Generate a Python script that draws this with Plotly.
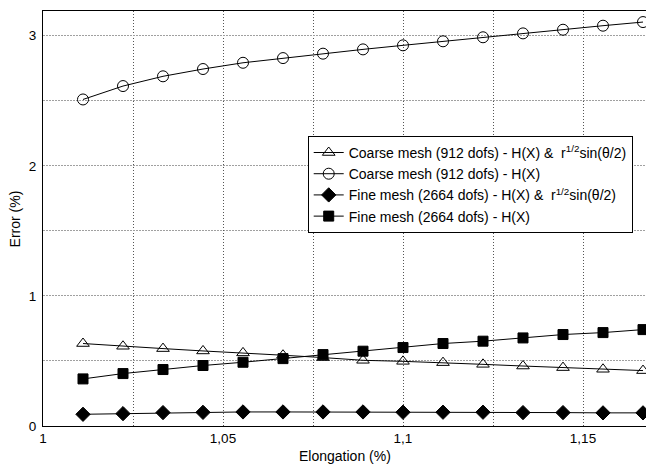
import plotly.graph_objects as go

elongation = [1 + k / 90 for k in range(1, 16)]

coarse_enriched = [0.634, 0.613, 0.595, 0.577, 0.562, 0.544, 0.526, 0.505,
                   0.497, 0.487, 0.474, 0.461, 0.449, 0.436, 0.426]
coarse_hx = [2.51, 2.613, 2.688, 2.744, 2.792, 2.828, 2.862, 2.895,
             2.926, 2.957, 2.988, 3.018, 3.046, 3.077, 3.105]
fine_enriched = [0.090, 0.095, 0.103, 0.105, 0.108, 0.108, 0.108, 0.108,
                 0.106, 0.106, 0.106, 0.103, 0.103, 0.101, 0.101]
fine_hx = [0.362, 0.403, 0.434, 0.465, 0.490, 0.518, 0.549, 0.575,
           0.603, 0.634, 0.652, 0.677, 0.703, 0.718, 0.741]

x_ticks = [1, 1.05, 1.1, 1.15]
x_ticktext = ["1", "1,05", "1,1", "1,15"]
y_ticks = [0, 1, 2, 3]

names = [
    "Coarse mesh (912 dofs) - H(X) &  r<sup>1/2</sup>sin(θ/2)",
    "Coarse mesh (912 dofs) - H(X)",
    "Fine mesh (2664 dofs) - H(X) &  r<sup>1/2</sup>sin(θ/2)",
    "Fine mesh (2664 dofs) - H(X)",
]
series = [coarse_enriched, coarse_hx, fine_enriched, fine_hx]
symbols = ["triangle-up-open", "circle-open", "diamond", "square"]
sizes = [11, 11, 11, 10]

fig = go.Figure()
for name, ys, sym, sz in zip(names, series, symbols, sizes):
    fig.add_trace(go.Scatter(
        x=elongation, y=ys, name=name, mode="lines+markers",
        line=dict(color="black", width=1),
        marker=dict(symbol=sym, size=sz, color="black",
                    line=dict(color="black", width=1)),
    ))

FONT = "Liberation Sans, Arial, sans-serif"
vgrid = dict(gridcolor="#555555", griddash="1px,2px", gridwidth=1)
hgrid = dict(gridcolor="#a0a0a0", griddash="2px,1px", gridwidth=1)

fig.update_layout(
    width=646, height=464,
    margin=dict(l=43, r=0, t=11, b=38),
    paper_bgcolor="white", plot_bgcolor="white",
    font=dict(family=FONT, size=13.5, color="black"),
    showlegend=True,
    legend=dict(x=0.439, y=0.699, xanchor="left", yanchor="top",
                bordercolor="black", borderwidth=1, bgcolor="white",
                font=dict(size=14), tracegroupgap=0, itemwidth=30),
    xaxis=dict(range=[1, 1.1675], tickvals=x_ticks, ticktext=x_ticktext,
               showline=True, linecolor="black", linewidth=1, mirror=True,
               zeroline=False, ticks="", automargin=False,
               showgrid=True, **vgrid,
               minor=dict(dtick=0.025, tick0=1, showgrid=True, **vgrid)),
    yaxis=dict(range=[0, 3.19], tickvals=y_ticks,
               showline=True, linecolor="black", linewidth=1,
               zeroline=False, ticks="", automargin=False,
               ticklabelstandoff=3,
               showgrid=True, **hgrid,
               minor=dict(dtick=0.5, tick0=0, showgrid=True, **hgrid)),
    annotations=[
        dict(text="Elongation (%)", xref="paper", yref="paper",
             x=0.5, y=-0.047, xanchor="center", yanchor="top",
             showarrow=False, font=dict(size=14)),
        dict(text="Error (%)", xref="paper", yref="paper",
             x=-0.030, y=0.5, xanchor="right", yanchor="middle",
             textangle=-90, showarrow=False, font=dict(size=14)),
    ],
)

fig.write_html("out.html",
               config={"displayModeBar": False},
               post_script="document.body.style.margin='0';document.body.style.padding='0';")
